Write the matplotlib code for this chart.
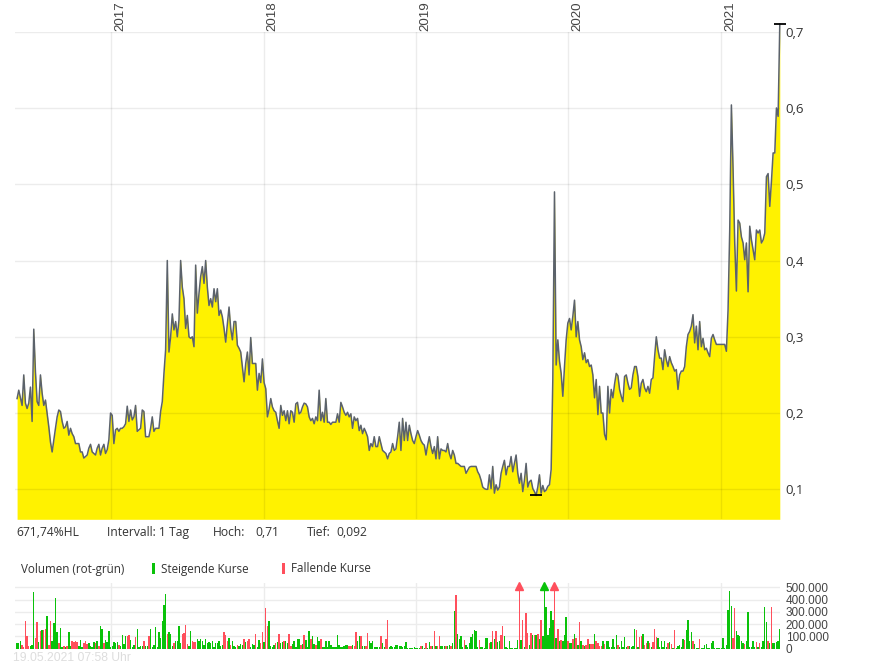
import numpy as np
import pandas as pd
import matplotlib
matplotlib.use("Agg")
import matplotlib.pyplot as plt
import matplotlib.transforms as mtransforms
from matplotlib.patches import Rectangle

# price series, one reading every 4 days starting 2016-05-20
start = "2016-05-20"
step = "4D"
price = [
    0.219, 0.230, 0.220, 0.210, 0.250, 0.213, 0.206, 0.213, 0.234, 0.189,
    0.310, 0.254, 0.215, 0.210, 0.250, 0.226, 0.210, 0.217, 0.200, 0.182,
    0.162, 0.149, 0.165, 0.180, 0.195, 0.204, 0.202, 0.189, 0.180, 0.182,
    0.189, 0.171, 0.180, 0.173, 0.169, 0.160, 0.160, 0.160, 0.149, 0.149,
    0.141, 0.143, 0.145, 0.154, 0.159, 0.149, 0.147, 0.145, 0.154, 0.159,
    0.145, 0.154, 0.159, 0.147, 0.152, 0.165, 0.200, 0.197, 0.160, 0.178,
    0.180, 0.176, 0.180, 0.180, 0.182, 0.186, 0.209, 0.189, 0.204, 0.191,
    0.195, 0.210, 0.176, 0.178, 0.180, 0.204, 0.202, 0.169, 0.169, 0.169,
    0.180, 0.195, 0.176, 0.180, 0.180, 0.180, 0.202, 0.215, 0.252, 0.283,
    0.400, 0.280, 0.300, 0.330, 0.309, 0.320, 0.300, 0.322, 0.400, 0.365,
    0.350, 0.311, 0.328, 0.300, 0.298, 0.300, 0.287, 0.394, 0.331, 0.357,
    0.379, 0.392, 0.370, 0.400, 0.365, 0.341, 0.350, 0.339, 0.363, 0.346,
    0.363, 0.328, 0.335, 0.326, 0.311, 0.293, 0.317, 0.339, 0.311, 0.296,
    0.320, 0.320, 0.289, 0.285, 0.280, 0.260, 0.241, 0.265, 0.280, 0.250,
    0.299, 0.265, 0.265, 0.265, 0.230, 0.252, 0.240, 0.271, 0.240, 0.232,
    0.195, 0.205, 0.219, 0.208, 0.203, 0.201, 0.190, 0.180, 0.210, 0.197,
    0.203, 0.190, 0.203, 0.186, 0.203, 0.201, 0.188, 0.212, 0.214, 0.199,
    0.201, 0.208, 0.213, 0.212, 0.208, 0.195, 0.190, 0.193, 0.186, 0.195,
    0.190, 0.230, 0.190, 0.201, 0.188, 0.219, 0.188, 0.188, 0.185, 0.188,
    0.188, 0.188, 0.199, 0.188, 0.214, 0.208, 0.201, 0.197, 0.201, 0.195,
    0.199, 0.180, 0.195, 0.190, 0.193, 0.177, 0.184, 0.173, 0.180, 0.175,
    0.169, 0.151, 0.160, 0.156, 0.169, 0.156, 0.156, 0.169, 0.160, 0.151,
    0.149, 0.147, 0.140, 0.147, 0.149, 0.160, 0.151, 0.153, 0.169, 0.188,
    0.151, 0.193, 0.164, 0.188, 0.164, 0.184, 0.173, 0.164, 0.160, 0.169,
    0.177, 0.171, 0.164, 0.160, 0.158, 0.145, 0.158, 0.169, 0.156, 0.147,
    0.156, 0.140, 0.169, 0.140, 0.153, 0.151, 0.151, 0.149, 0.160, 0.147,
    0.140, 0.151, 0.145, 0.134, 0.134, 0.132, 0.130, 0.130, 0.130, 0.121,
    0.125, 0.129, 0.130, 0.130, 0.130, 0.130, 0.123, 0.119, 0.112, 0.103,
    0.101, 0.100, 0.100, 0.119, 0.101, 0.130, 0.095, 0.106, 0.099, 0.103,
    0.121, 0.130, 0.138, 0.119, 0.130, 0.130, 0.143, 0.123, 0.134, 0.145,
    0.121, 0.108, 0.121, 0.097, 0.112, 0.134, 0.103, 0.110, 0.112, 0.101,
    0.097, 0.092, 0.103, 0.119, 0.095, 0.105, 0.097, 0.099, 0.104, 0.106,
    0.126, 0.244, 0.490, 0.263, 0.296, 0.268, 0.252, 0.222, 0.261, 0.296,
    0.318, 0.324, 0.309, 0.327, 0.348, 0.300, 0.320, 0.296, 0.287, 0.270,
    0.279, 0.266, 0.270, 0.261, 0.263, 0.250, 0.220, 0.244, 0.198, 0.235,
    0.200, 0.200, 0.172, 0.165, 0.235, 0.200, 0.231, 0.220, 0.238, 0.252,
    0.249, 0.231, 0.222, 0.215, 0.248, 0.250, 0.239, 0.231, 0.233, 0.250,
    0.261, 0.261, 0.248, 0.222, 0.239, 0.244, 0.233, 0.228, 0.235, 0.226,
    0.244, 0.246, 0.274, 0.300, 0.283, 0.272, 0.272, 0.257, 0.283, 0.270,
    0.261, 0.274, 0.266, 0.261, 0.255, 0.257, 0.231, 0.250, 0.255, 0.255,
    0.261, 0.287, 0.303, 0.307, 0.314, 0.329, 0.292, 0.314, 0.283, 0.320,
    0.287, 0.298, 0.283, 0.285, 0.279, 0.274, 0.298, 0.303, 0.296, 0.290,
    0.290, 0.290, 0.290, 0.290, 0.290, 0.281, 0.335, 0.440, 0.604, 0.520,
    0.423, 0.360, 0.453, 0.449, 0.431, 0.423, 0.401, 0.423, 0.359, 0.445,
    0.427, 0.414, 0.401, 0.440, 0.436, 0.440, 0.423, 0.427, 0.436, 0.510,
    0.514, 0.471, 0.504, 0.541, 0.541, 0.600, 0.589, 0.710,
]

# volume in thousands for the same 4-day steps
volume_k = [
    45, 45, 60, 30, 15, 227, 105, 20, 25, 30,
    462, 86, 214, 51, 141, 154, 154, 162, 268, 30,
    222, 65, 208, 416, 132, 46, 168, 15, 24, 10,
    24, 132, 20, 59, 55, 59, 51, 20, 73, 15,
    46, 65, 40, 46, 24, 15, 51, 46, 59, 19,
    181, 160, 46, 73, 51, 141, 15, 20, 57, 46,
    57, 30, 19, 114, 41, 100, 100, 114, 73, 15,
    30, 92, 160, 15, 19, 19, 65, 19, 19, 105,
    160, 15, 30, 173, 15, 135, 86, 227, 357, 446,
    122, 135, 119, 19, 46, 65, 65, 186, 46, 119,
    127, 195, 41, 24, 141, 65, 57, 51, 78, 65,
    78, 59, 30, 80, 46, 51, 46, 59, 10, 46,
    46, 65, 24, 32, 132, 114, 59, 86, 32, 65,
    24, 10, 30, 24, 41, 32, 81, 51, 65, 81,
    10, 41, 32, 122, 10, 73, 46, 132, 51, 335,
    181, 222, 24, 10, 30, 46, 51, 119, 46, 51,
    65, 59, 46, 119, 24, 41, 59, 15, 78, 78,
    30, 41, 114, 73, 10, 146, 78, 105, 41, 32,
    97, 65, 81, 15, 10, 65, 10, 65, 32, 10,
    10, 10, 114, 30, 10, 10, 19, 30, 32, 19,
    24, 27, 24, 138, 65, 100, 105, 24, 24, 19,
    127, 59, 46, 65, 10, 10, 10, 10, 105, 46,
    10, 78, 230, 10, 24, 10, 10, 32, 30, 24,
    19, 10, 19, 57, 8, 8, 8, 5, 12, 5,
    5, 5, 24, 19, 8, 46, 8, 51, 24, 19,
    141, 19, 24, 100, 24, 19, 24, 24, 24, 32,
    24, 46, 308, 440, 119, 78, 100, 10, 68, 32,
    10, 46, 95, 122, 154, 141, 10, 73, 10, 10,
    8, 86, 86, 46, 51, 141, 78, 141, 51, 65,
    114, 186, 105, 10, 8, 65, 8, 8, 8, 8,
    73, 560, 73, 230, 10, 289, 127, 30, 127, 114,
    114, 114, 119, 78, 235, 100, 560, 343, 114, 168,
    303, 235, 560, 86, 160, 59, 73, 59, 114, 254,
    59, 46, 46, 78, 122, 86, 32, 214, 59, 32,
    24, 27, 78, 38, 38, 38, 122, 59, 46, 19,
    19, 65, 38, 59, 59, 10, 10, 81, 10, 114,
    32, 10, 59, 10, 95, 10, 19, 24, 10, 19,
    162, 154, 10, 95, 100, 119, 32, 46, 59, 46,
    10, 51, 162, 92, 86, 10, 65, 10, 65, 10,
    46, 51, 41, 8, 154, 8, 24, 32, 10, 78,
    73, 149, 235, 59, 135, 59, 38, 8, 8, 78,
    8, 8, 32, 38, 8, 8, 46, 59, 8, 8,
    8, 8, 8, 86, 8, 30, 316, 470, 349, 86,
    330, 141, 114, 100, 65, 46, 41, 65, 295, 10,
    10, 59, 10, 51, 10, 46, 10, 59, 343, 216,
    59, 46, 343, 46, 46, 51, 65, 162,
]

# g = steigende Kurse, r = fallende Kurse
direction = (
    "gggrrrrrgg" "grrgrgrrgr" "rggggrggrg" "rggrrrrggg" "rrrggggrgr"
    "ggrggggggg" "grggggrrgg" "grggggrggr" "gggggggggg" "rgggrggggr"
    "rrrggrrrgg" "gggggggggg" "ggggrrrgrg" "ggrgggrgrr" "gggrggrrgr"
    "rggggrgrgg" "rggrrggggg" "rgrgggrggr" "ggrggggggg" "gggggggggr"
    "rgrrggrggr" "rgggggggrg" "grrggggggg" "gggggggggg" "ggrggrggrg"
    "rgrrgggrgg" "rggrggggrg" "gggggggrgg" "gggrgrgrgg" "rrgggggggg"
    "grgrgrrgrg" "rgrgrggggg" "ggrgrgrggg" "rggrgrgrgr" "grrgrrgrrr"
    "rgrggggggg" "rgggggrggg" "grgrrgrrgr" "grrrgggggg" "rgrgrggggg"
    "rggggrgggr" "gggggggggg" "gggggggggr" "rgggggrggg" "gggrgrgggg"
    "rgrggggg"
)

years = [2017, 2018, 2019, 2020, 2021]
price_ticks = [0.1, 0.2, 0.3, 0.4, 0.5, 0.6, 0.7]
volume_ticks = [0, 100000, 200000, 300000, 400000, 500000]
performance = "671,74%HL"
interval = "Intervall: 1 Tag"
high_value = "0,71"
low_value = "0,092"
timestamp = "19.05.2021 07:58 Uhr"

assert len(price) == len(volume_k) == len(direction), (len(price), len(volume_k), len(direction))

YELLOW = "#fff200"
LINE = "#5b626b"
GREEN = "#0ac20a"
RED = "#ff4f5c"
GRID = "#ececec"

dates = pd.date_range(start, periods=len(price), freq=step)
price = np.array(price)
volume = np.array(volume_k) * 1000.0
up = np.array([c == "g" for c in direction])
year_starts = [pd.Timestamp(f"{y}-01-01") for y in years]

W, H = 895, 669
fig = plt.figure(figsize=(W / 100, H / 100), dpi=100)


def box(left, top, right, bottom):
    return [left / W, 1 - bottom / H, (right - left) / W, (bottom - top) / H]


ax = fig.add_axes(box(15, 31.7, 780, 519.3))
axv = fig.add_axes(box(15, 582.7, 780, 648.7))

xlim = (dates[0] - pd.Timedelta(days=5), dates[-1] + pd.Timedelta(days=0.5))

# price chart
ax.set_xlim(*xlim)
ax.set_ylim(0.0607, 0.7)
floor = ax.get_ylim()[0]
ax.fill_between(dates, price, floor, color=YELLOW, lw=0, zorder=1, clip_on=False)
ax.plot(dates, price, color=LINE, lw=1.1, zorder=3, clip_on=False)

hi = int(np.argmax(price))
lo = int(np.argmin(price))
ax.plot(dates[hi], price[hi], marker="_", ms=8, mew=1.3, color="black", zorder=4, clip_on=False)
ax.plot(dates[lo], price[lo], marker="_", ms=8, mew=1.3, color="black", zorder=4, clip_on=False)

ax.set_xticks(year_starts)
ax.set_yticks(price_ticks)
ax.set_yticklabels([f"{v:.1f}".replace(".", ",") for v in price_ticks])
ax.yaxis.tick_right()
ax.tick_params(axis="x", length=0, labelbottom=False)
ax.tick_params(axis="y", length=0, pad=4.2, labelsize=9.5, labelcolor="#333333")
for lab in ax.get_yticklabels():
    lab.set_fontfamily("Open Sans")
ax.grid(True, color="black", alpha=0.075, lw=1)
ax.set_axisbelow(False)
for name, sp in ax.spines.items():
    sp.set_visible(False)

year_tf = mtransforms.offset_copy(
    mtransforms.blended_transform_factory(ax.transData, ax.transAxes),
    fig=fig, x=3.0, y=1.2, units="dots")
for y, d in zip(years, year_starts):
    ax.text(d, 1.0, str(y), transform=year_tf, rotation=90, ha="left", va="bottom",
            fontsize=9.6, color="#444444", family="Liberation Sans")

# volume chart
vmax = 537000
axv.set_xlim(*xlim)
axv.set_ylim(0, vmax)
axv.bar(dates[up], volume[up], width=3.4, color=GREEN, lw=0, zorder=2)
axv.bar(dates[~up], volume[~up], width=3.4, color=RED, lw=0, zorder=2)
over = volume > vmax
for mask, col in ((over & up, GREEN), (over & ~up, RED)):
    axv.plot(dates[mask], np.full(mask.sum(), 512000), ls="none", marker="^", ms=6,
             color=col, zorder=3, clip_on=False)
axv.set_xticks(year_starts)
axv.set_yticks(volume_ticks)
axv.set_yticklabels([f"{v:,.0f}".replace(",", ".") for v in volume_ticks])
axv.yaxis.tick_right()
axv.tick_params(axis="x", length=0, labelbottom=False)
axv.tick_params(axis="y", length=0, pad=4.2, labelsize=8.5, labelcolor="#444444")
for lab in axv.get_yticklabels():
    lab.set_fontfamily("Liberation Sans")
axv.grid(True, color=GRID, lw=1, zorder=0)
axv.set_axisbelow(True)
for name, sp in axv.spines.items():
    sp.set_visible(False)


# text rows
def ftext(x, y, s, **kw):
    kw.setdefault("family", "Open Sans")
    kw.setdefault("fontsize", 8.7)
    kw.setdefault("color", "#333333")
    fig.text(x / W, 1 - y / H, s, va="center", ha="left", **kw)


ftext(16.3, 532.5, performance)
ftext(107.3, 532.5, interval)
ftext(213.3, 532.5, "Hoch:")
ftext(255.7, 532.5, high_value)
ftext(306.7, 532.5, "Tief:")
ftext(336.7, 532.5, low_value)

ftext(21, 569, "Volumen (rot-grün)", fontsize=8.4)
fig.add_artist(Rectangle((152 / W, 1 - 574 / H), 3 / W, 10.7 / H, transform=fig.transFigure,
                         color=GREEN, lw=0))
ftext(160.7, 569, "Steigende Kurse", fontsize=8.4)
fig.add_artist(Rectangle((282 / W, 1 - 574 / H), 3 / W, 10.7 / H, transform=fig.transFigure,
                         color=RED, lw=0))
ftext(290.7, 569, "Fallende Kurse", fontsize=8.4)

ftext(13.3, 658, timestamp, family="Liberation Sans", color="#dddddd")

fig.savefig("out.png", dpi=100)
